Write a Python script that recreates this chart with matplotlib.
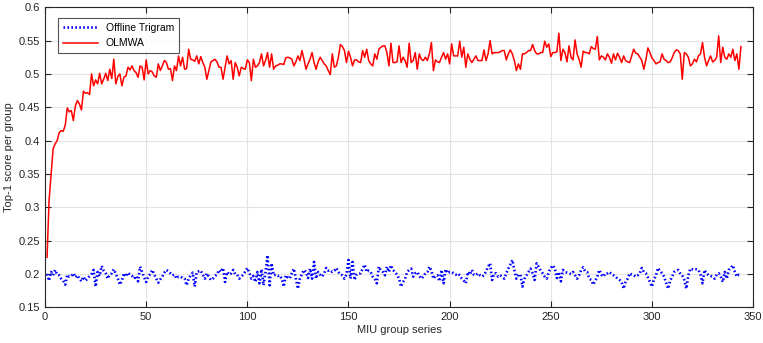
import numpy as np
import matplotlib
matplotlib.use("Agg")
import matplotlib.pyplot as plt

plt.rcParams['font.family'] = ['Liberation Sans', 'DejaVu Sans']

# OLMWA top-1 score per group (x = 1..344)
olmwa = [
    0.225, 0.310, 0.350, 0.388, 0.395, 0.400, 0.412, 0.415, 0.414, 0.423,
    0.449, 0.443, 0.445, 0.430, 0.452, 0.460, 0.455, 0.446, 0.474, 0.471,
    0.472, 0.469, 0.500, 0.482, 0.491, 0.485, 0.501, 0.485, 0.492, 0.501,
    0.490, 0.507, 0.493, 0.522, 0.485, 0.496, 0.500, 0.482, 0.495, 0.497,
    0.510, 0.506, 0.512, 0.505, 0.502, 0.495, 0.512, 0.510, 0.491, 0.521,
    0.500, 0.505, 0.503, 0.497, 0.495, 0.515, 0.505, 0.512, 0.520, 0.517,
    0.507, 0.508, 0.490, 0.512, 0.505, 0.527, 0.512, 0.525, 0.507, 0.508,
    0.537, 0.522, 0.521, 0.519, 0.527, 0.515, 0.526, 0.517, 0.510, 0.492,
    0.505, 0.518, 0.520, 0.522, 0.518, 0.510, 0.510, 0.492, 0.510, 0.527,
    0.515, 0.520, 0.492, 0.517, 0.510, 0.497, 0.510, 0.508, 0.507, 0.521,
    0.517, 0.490, 0.522, 0.510, 0.512, 0.517, 0.530, 0.512, 0.520, 0.532,
    0.510, 0.530, 0.507, 0.512, 0.513, 0.515, 0.515, 0.514, 0.524, 0.525,
    0.524, 0.522, 0.512, 0.518, 0.527, 0.520, 0.535, 0.522, 0.507, 0.515,
    0.522, 0.532, 0.517, 0.507, 0.518, 0.525, 0.520, 0.515, 0.512, 0.505,
    0.499, 0.530, 0.510, 0.512, 0.525, 0.544, 0.541, 0.535, 0.517, 0.534,
    0.525, 0.512, 0.521, 0.521, 0.518, 0.517, 0.535, 0.525, 0.537, 0.520,
    0.515, 0.512, 0.530, 0.522, 0.537, 0.540, 0.542, 0.542, 0.532, 0.512,
    0.546, 0.517, 0.517, 0.518, 0.542, 0.517, 0.525, 0.520, 0.510, 0.546,
    0.517, 0.520, 0.532, 0.507, 0.530, 0.522, 0.520, 0.525, 0.520, 0.530,
    0.547, 0.505, 0.521, 0.518, 0.517, 0.525, 0.532, 0.522, 0.530, 0.515,
    0.545, 0.527, 0.527, 0.527, 0.549, 0.525, 0.540, 0.510, 0.530, 0.522,
    0.517, 0.522, 0.527, 0.520, 0.520, 0.520, 0.536, 0.520, 0.530, 0.550,
    0.530, 0.532, 0.532, 0.532, 0.533, 0.535, 0.535, 0.521, 0.530, 0.536,
    0.530, 0.520, 0.505, 0.515, 0.507, 0.530, 0.530, 0.532, 0.535, 0.535,
    0.544, 0.535, 0.530, 0.530, 0.532, 0.532, 0.549, 0.540, 0.545, 0.526,
    0.532, 0.532, 0.533, 0.561, 0.520, 0.537, 0.532, 0.518, 0.542, 0.525,
    0.521, 0.551, 0.530, 0.522, 0.510, 0.534, 0.532, 0.532, 0.530, 0.541,
    0.538, 0.537, 0.556, 0.521, 0.527, 0.525, 0.521, 0.530, 0.525, 0.516,
    0.530, 0.521, 0.531, 0.525, 0.517, 0.527, 0.520, 0.518, 0.517, 0.527,
    0.537, 0.531, 0.530, 0.525, 0.520, 0.507, 0.521, 0.539, 0.532, 0.524,
    0.520, 0.515, 0.517, 0.518, 0.530, 0.522, 0.520, 0.517, 0.518, 0.524,
    0.532, 0.536, 0.535, 0.530, 0.492, 0.532, 0.530, 0.525, 0.512, 0.515,
    0.522, 0.518, 0.527, 0.530, 0.547, 0.525, 0.512, 0.520, 0.527, 0.518,
    0.520, 0.525, 0.557, 0.517, 0.540, 0.525, 0.522, 0.530, 0.525, 0.537,
    0.520, 0.530, 0.507, 0.541,
]

# Offline Trigram top-1 score per group
trigram = [
    0.200, 0.190, 0.203, 0.198, 0.206, 0.199, 0.198, 0.193, 0.190, 0.184,
    0.199, 0.196, 0.197, 0.201, 0.195, 0.198, 0.193, 0.189, 0.196, 0.190,
    0.193, 0.197, 0.200, 0.206, 0.181, 0.203, 0.197, 0.212, 0.205, 0.201,
    0.193, 0.199, 0.201, 0.207, 0.200, 0.193, 0.184, 0.190, 0.201, 0.196,
    0.202, 0.199, 0.197, 0.193, 0.197, 0.189, 0.211, 0.203, 0.195, 0.188,
    0.196, 0.200, 0.206, 0.199, 0.193, 0.187, 0.192, 0.196, 0.202, 0.206,
    0.204, 0.201, 0.198, 0.199, 0.193, 0.196, 0.196, 0.194, 0.193, 0.183,
    0.193, 0.198, 0.202, 0.181, 0.203, 0.204, 0.205, 0.199, 0.193, 0.201,
    0.196, 0.191, 0.193, 0.197, 0.199, 0.206, 0.203, 0.209, 0.188, 0.203,
    0.199, 0.201, 0.206, 0.200, 0.199, 0.193, 0.196, 0.199, 0.204, 0.209,
    0.202, 0.193, 0.197, 0.188, 0.203, 0.186, 0.207, 0.183, 0.203, 0.228,
    0.183, 0.216, 0.198, 0.199, 0.197, 0.198, 0.193, 0.181, 0.198, 0.195,
    0.193, 0.201, 0.208, 0.193, 0.178, 0.193, 0.200, 0.206, 0.203, 0.194,
    0.208, 0.193, 0.218, 0.193, 0.203, 0.199, 0.196, 0.201, 0.209, 0.205,
    0.206, 0.203, 0.205, 0.209, 0.203, 0.199, 0.198, 0.193, 0.199, 0.221,
    0.193, 0.218, 0.191, 0.199, 0.201, 0.201, 0.208, 0.214, 0.203, 0.205,
    0.203, 0.196, 0.193, 0.186, 0.211, 0.205, 0.203, 0.198, 0.211, 0.203,
    0.213, 0.206, 0.203, 0.199, 0.193, 0.181, 0.188, 0.193, 0.203, 0.206,
    0.208, 0.196, 0.201, 0.203, 0.197, 0.193, 0.196, 0.201, 0.203, 0.211,
    0.205, 0.193, 0.197, 0.198, 0.189, 0.206, 0.186, 0.207, 0.201, 0.203,
    0.203, 0.201, 0.199, 0.201, 0.198, 0.193, 0.190, 0.186, 0.203, 0.199,
    0.206, 0.199, 0.198, 0.201, 0.198, 0.196, 0.198, 0.204, 0.211, 0.216,
    0.191, 0.201, 0.201, 0.196, 0.198, 0.196, 0.193, 0.201, 0.208, 0.214,
    0.221, 0.206, 0.193, 0.199, 0.199, 0.181, 0.193, 0.198, 0.203, 0.208,
    0.201, 0.191, 0.216, 0.211, 0.205, 0.201, 0.196, 0.193, 0.203, 0.209,
    0.213, 0.208, 0.194, 0.203, 0.189, 0.206, 0.203, 0.202, 0.201, 0.200,
    0.203, 0.198, 0.193, 0.198, 0.206, 0.210, 0.204, 0.203, 0.193, 0.191,
    0.184, 0.190, 0.196, 0.206, 0.199, 0.196, 0.201, 0.201, 0.203, 0.200,
    0.198, 0.196, 0.193, 0.191, 0.188, 0.178, 0.188, 0.193, 0.201, 0.199,
    0.198, 0.196, 0.198, 0.201, 0.209, 0.203, 0.201, 0.195, 0.188, 0.181,
    0.192, 0.198, 0.209, 0.205, 0.201, 0.196, 0.187, 0.178, 0.190, 0.196,
    0.203, 0.205, 0.206, 0.201, 0.198, 0.191, 0.178, 0.198, 0.208, 0.207,
    0.206, 0.207, 0.206, 0.199, 0.186, 0.206, 0.201, 0.198, 0.197, 0.196,
    0.193, 0.199, 0.201, 0.196, 0.188, 0.203, 0.193, 0.206, 0.209, 0.213,
    0.203, 0.196, 0.199, 0.198,
]

x_red = np.arange(1, len(olmwa) + 1)
x_blue = np.arange(1, len(trigram) + 1)

fig = plt.figure(figsize=(7.63, 3.43), dpi=100)
ax = fig.add_axes([0.059, 0.104, 0.928, 0.875])

ax.plot(x_blue, trigram, color='blue', linestyle=(0, (0.6, 0.9)), linewidth=1.9,
        label='Offline Trigram')
ax.plot(x_red, olmwa, color='red', linestyle='-', linewidth=1.1, label='OLMWA')

ax.set_xlim(0, 350)
ax.set_ylim(0.15, 0.6)
ax.set_xticks(np.arange(0, 351, 50))
ax.set_yticks(np.arange(0.15, 0.601, 0.05))
ax.set_yticklabels(['0.15', '0.2', '0.25', '0.3', '0.35', '0.4', '0.45', '0.5', '0.55', '0.6'])

ax.grid(True, color='#e3e3e3', linewidth=0.8)
ax.set_axisbelow(True)
ax.tick_params(direction='in', top=True, right=True, labelsize=8, length=4, width=0.8,
               colors='#262626')
for s in ax.spines.values():
    s.set_linewidth(0.8)
    s.set_color('#262626')

ax.set_xlabel('MIU group series', fontsize=8, labelpad=2, color='#262626')
ax.set_ylabel('Top-1 score per group', fontsize=8, labelpad=3, color='#262626')

leg = ax.legend(loc='upper left', fontsize=7.5, frameon=True, fancybox=False,
                edgecolor='#262626', bbox_to_anchor=(0.011, 0.982), handlelength=3.3,
                borderpad=0.5, labelspacing=0.5)
leg.get_frame().set_linewidth(0.8)

fig.savefig('out.png', dpi=100)
